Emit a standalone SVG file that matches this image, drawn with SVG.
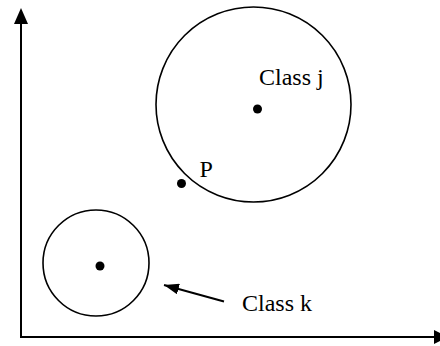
<svg xmlns="http://www.w3.org/2000/svg" width="440" height="346" viewBox="0 0 440 346">
<defs>
<style>
.c{fill:none;stroke:#000;stroke-width:1.6}
.d{fill:#000}
.t{font-family:"Liberation Serif","Times New Roman",serif;font-size:24px;fill:#000}
.ax{fill:none;stroke:#000;stroke-width:2}
</style>
<marker id="ah" viewBox="0 0 15 11" refX="15" refY="5.5" markerWidth="15" markerHeight="11" markerUnits="userSpaceOnUse" orient="auto">
<path d="M0,0 L15,5.5 L0,11 Z" fill="#000"/>
</marker>
</defs>
<g id="axes">
<polyline class="ax" points="21,24 21,337 436,337"/>
<path d="M14,24 L21,8 L28,24 Z" fill="#000"/>
<path d="M434,330 L448,337 L434,344 Z" fill="#000"/>
</g>
<g id="class-j">
<circle class="c" cx="253.5" cy="104.5" r="97.5"/>
<circle class="d" cx="257.5" cy="109" r="4.5"/>
<text class="t" x="259" y="85">Class j</text>
</g>
<g id="point-p">
<circle class="d" cx="181.5" cy="183.5" r="4.5"/>
<text class="t" x="199.5" y="177">P</text>
</g>
<g id="class-k">
<circle class="c" cx="96" cy="263" r="53"/>
<circle class="d" cx="100" cy="266" r="4.5"/>
<text class="t" x="242" y="311">Class k</text>
</g>
<g id="connectors">
<line x1="224" y1="301.5" x2="164" y2="285" stroke="#000" stroke-width="2" marker-end="url(#ah)"/>
</g>
</svg>
